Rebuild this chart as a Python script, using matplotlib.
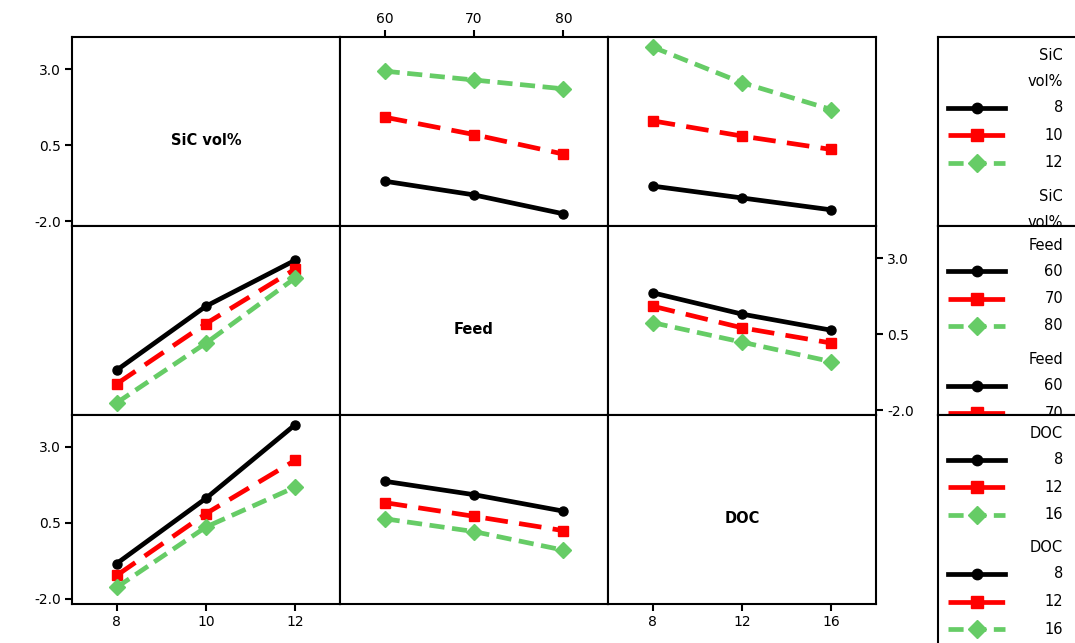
import matplotlib
matplotlib.use("Agg")
import matplotlib.pyplot as plt
import numpy as np

# ---------------- data ----------------
factor_names = ["SiC vol%", "Feed", "DOC"]
legend_titles = [["SiC", "vol%"], ["Feed"], ["DOC"]]
sic_levels = [8, 10, 12]
feed_levels = [60, 70, 80]
doc_levels = [8, 12, 16]
levels = [sic_levels, feed_levels, doc_levels]

# mean responses: rows = first factor level, cols = second factor level
sic_by_feed = [[-0.68, -1.13, -1.75],
               [1.42, 0.85, 0.21],
               [2.93, 2.64, 2.35]]
sic_by_doc = [[-0.84, -1.23, -1.62],
              [1.30, 0.80, 0.36],
              [3.72, 2.55, 1.67]]
feed_by_doc = [[1.86, 1.16, 0.63],
               [1.42, 0.71, 0.21],
               [0.88, 0.24, -0.40]]

y_ticks = [-2.0, 0.5, 3.0]
y_tick_labels = ["-2.0", "0.5", "3.0"]

# ---------------- styles ----------------
colors = ["black", "#ff0000", "#66cc66"]
markers = ["o", "s", "D"]
msizes = [6.5, 7.5, 8]
linestyles = ["-", (0, (4.8, 2.4)), (0, (3.2, 1.6))]
LW = 3.4

plt.rcParams["font.family"] = ["DejaVu Sans"]

W, H = 1075, 643
fig = plt.figure(figsize=(W / 100, H / 100), dpi=100)


def px_axes(left, top, width, height):
    return fig.add_axes([left / W, 1 - (top + height) / H, width / W, height / H])


col_x = [72, 340, 608]
col_w = 268
row_y = [37, 226, 414.5]
row_h = 189
xlims = [(7, 13), (55, 85), (6, 18)]
ylim = (-2.15, 4.05)


def table(trace, xfac):
    mats = {(0, 1): sic_by_feed, (0, 2): sic_by_doc, (1, 2): feed_by_doc}
    if (trace, xfac) in mats:
        return np.array(mats[(trace, xfac)])
    return np.array(mats[(xfac, trace)]).T


for r in range(3):
    for c in range(3):
        ax = px_axes(col_x[c], row_y[r], col_w, row_h)
        ax.set_xlim(*xlims[c])
        ax.set_ylim(*ylim)
        for s in ax.spines.values():
            s.set_linewidth(1.5)
        ax.tick_params(direction="out", length=5, width=1.5, labelsize=10, pad=3,
                       colors="black")
        ax.set_xticks([])
        ax.set_yticks([])
        if r == c:
            ax.text(0.5, 0.45, factor_names[r], transform=ax.transAxes,
                    ha="center", va="center", fontsize=10.5, fontweight="bold")
        else:
            M = table(r, c)
            for i in range(3):
                ax.plot(levels[c], M[i], color=colors[i], ls=linestyles[i], lw=LW,
                        marker=markers[i], ms=msizes[i], mec=colors[i], mfc=colors[i],
                        solid_capstyle="butt", dash_capstyle="butt", clip_on=False)
        # axis ticks as in reference
        if (r, c) in [(0, 0), (2, 0)]:
            ax.set_yticks(y_ticks)
            ax.set_yticklabels(y_tick_labels)
        if (r, c) == (1, 2):
            ax.yaxis.tick_right()
            ax.set_yticks(y_ticks)
            ax.set_yticklabels(y_tick_labels)
        if (r, c) == (0, 1):
            ax.xaxis.tick_top()
            ax.set_xticks(levels[1])
        if (r, c) in [(2, 0), (2, 2)]:
            ax.set_xticks(levels[c])

# ---------------- legends ----------------
leg_left = 938
leg_w = 170
for r in range(3):
    h = row_h if r < 2 else 260
    lax = px_axes(leg_left, row_y[r], leg_w, h)
    lax.set_xlim(0, leg_w)
    lax.set_ylim(h, 0)
    lax.set_xticks([])
    lax.set_yticks([])
    lax.spines["right"].set_visible(False)
    for s in lax.spines.values():
        s.set_linewidth(1.5)
    y = 19
    for block in range(2):
        for t in legend_titles[r]:
            if y - 8 < h:
                lax.text(125, y, t, ha="right", va="center", fontsize=10.5, clip_on=True)
            y += 26
        for i, lev in enumerate(levels[r]):
            if y - 8 < h:
                lax.plot([10, 39, 67], [y, y, y], color=colors[i], ls=linestyles[i],
                         lw=LW, marker=markers[i], ms=msizes[i] + 1, markevery=[1],
                         mec=colors[i], mfc=colors[i], dash_capstyle="butt")
                lax.text(125, y, str(lev), ha="right", va="center", fontsize=10.5,
                         clip_on=True)
            y += 27.5
        y += 6

fig.savefig("out.png", dpi=100)
